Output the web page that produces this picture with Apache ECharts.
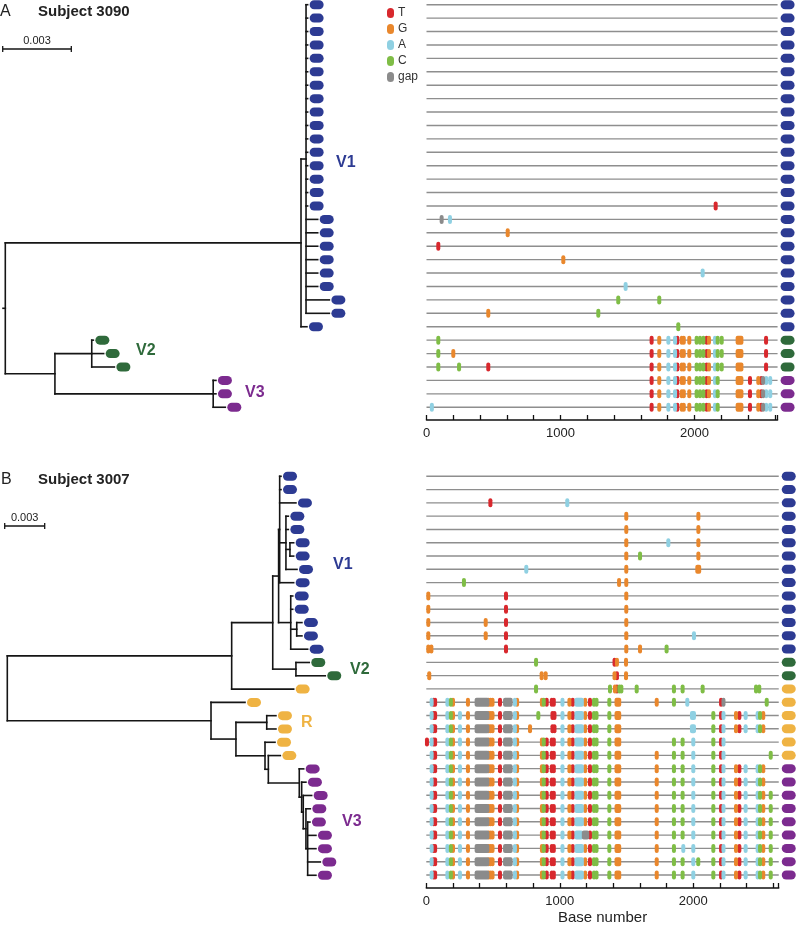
<!DOCTYPE html>
<html><head><meta charset="utf-8">
<script src="https://cdn.jsdelivr.net/npm/echarts@6/dist/echarts.min.js"></script>
<style>html,body{margin:0;padding:0;background:#fff}#main{width:798px;height:926px}</style>
</head><body><div id="main"></div>
<script>
// ---------------- DATA ----------------
const bases = ['T', 'G', 'A', 'C', 'gap'];
const seqLenA = 2620;
const seqLenB = 2640;
const axisTickInterval = 200;

// group of each sequence (row order top -> bottom)
const groupsA = ['V1','V1','V1','V1','V1','V1','V1','V1','V1','V1','V1','V1','V1','V1','V1','V1','V1','V1','V1','V1','V1','V1','V1','V1','V1',
                 'V2','V2','V2','V3','V3','V3'];
const groupsB = ['V1','V1','V1','V1','V1','V1','V1','V1','V1','V1','V1','V1','V1','V1',
                 'V2','V2','R','R','R','R','R','R','V3','V3','V3','V3','V3','V3','V3','V3','V3'];

// phylogeny, panel A: internal nodes [id, parent, distance from root]
const treeA_internal = [
  ['root', null, 0], ['n1', 'root', 0.01293], ['n2', 'n1', 0.01315],
  ['n3', 'root', 0.00217], ['n4', 'n3', 0.00378], ['n5', 'n3', 0.00909]
];
const treeA_leafParent = ['n2','n2','n2','n2','n2','n2','n2','n2','n2','n2','n2','n2','n2','n2','n2','n2',
                          'n2','n2','n2','n2','n2','n2','n2','n2','n1','n4','n4','n4','n5','n5','n5'];
const treeA_leafDist = [0.01322,0.01322,0.01322,0.01322,0.01322,0.01322,0.01322,0.01322,0.01322,0.01322,0.01322,0.01322,0.01322,0.01322,0.01322,0.01322,
                        0.01366,0.01366,0.01366,0.01366,0.01366,0.01366,0.01417,0.01417,0.01319,
                        0.00385,0.00430,0.00477,0.00921,0.00921,0.00962];

// phylogeny, panel B
const treeB_internal = [
  ['root', null, 0], ['A1', 'root', 0.01683], ['A2', 'A1', 0.01991], ['V1', 'A2', 0.02035],
  ['Ua', 'V1', 0.02043], ['Vb', 'Ua', 0.02090], ['Vd', 'Vb', 0.02120], ['Vc', 'V1', 0.02126],
  ['Vf', 'Vc', 0.02171], ['V2', 'A2', 0.02165], ['B1', 'root', 0.01528], ['B2', 'B1', 0.01715],
  ['R', 'B2', 0.01946], ['B3', 'B2', 0.01933], ['B4', 'B3', 0.01958], ['P1', 'B4', 0.02190],
  ['P2', 'P1', 0.02208], ['P3', 'P2', 0.02220], ['P4', 'P3', 0.02240], ['P5', 'P4', 0.02253]
];
const treeB_leafParent = ['Ua','Ua','Ua','Vb','Vb','Vd','Vd','Vb','Ua','Vc','Vc','Vf','Vf','Vc',
                          'V2','V2','A1','B1','R','R','B3','B4','P1','P2','P3','P4','P5','P5','P5','P5','P5'];
const treeB_leafDist = [0.02053,0.02053,0.02165,0.02108,0.02108,0.02148,0.02148,0.02173,0.02148,0.02141,0.02141,0.02210,0.02210,0.02253,
                        0.02265,0.02385,0.02148,0.01783,0.02015,0.02015,0.02008,0.02048,
                        0.02223,0.02240,0.02283,0.02273,0.02270,0.02315,0.02315,0.02348,0.02315];
const scaleBarLength = 0.003;

// mutations (position, base[, end position]) relative to the reference sequence
const v2ClusterA = [[1680,'T'],[1737,'G'],[1805,'A'],[1855,'A'],[1872,'T'],[1905,'G'],[1920,'G'],[1961,'G'],[2016,'C'],[2041,'C'],
                    [2066,'C'],[2091,'T'],[2108,'G'],[2153,'A'],[2173,'C'],[2203,'C'],[2322,'G',2350],[2534,'T']];
const v3ClusterA = [[1680,'T'],[1737,'G'],[1805,'A'],[1855,'A'],[1872,'T'],[1905,'G'],[1920,'G'],[1961,'G'],[2016,'C'],[2041,'C'],
                    [2066,'C'],[2091,'T'],[2108,'G'],[2153,'A'],[2173,'C'],[2322,'G',2350],[2414,'T'],[2476,'G'],[2498,'T'],
                    [2512,'gap'],[2535,'A'],[2565,'A']];
const sitesA = [
  [],[],[],[],[],[],[],[],[],[],[],[],[],[],[],
  [[2158,'T']],
  [[113,'gap'],[175,'A']],
  [[606,'G']],
  [[88,'T']],
  [[1021,'G']],
  [[2061,'A']],
  [[1486,'A']],
  [[1431,'C'],[1737,'C']],
  [[461,'G'],[1282,'C']],
  [[1879,'C']],
  [[88,'C'], ...v2ClusterA],
  [[88,'C'],[200,'G'], ...v2ClusterA],
  [[88,'C'],[243,'C'],[461,'T'], ...v2ClusterA],
  [...v3ClusterA],
  [...v3ClusterA],
  [[40,'A'], ...v3ClusterA]
];

const bLeft = [[40,'A'],[55,'T'],[66,'T'],[158,'A'],[184,'C'],[200,'G'],[312,'G'],[377,'gap',457],[467,'G'],[482,'G'],[496,'G'],
               [552,'T'],[590,'gap',632],[664,'A'],[680,'G']];
const bMidFull = [[866,'G'],[880,'C'],[902,'T'],[940,'T'],[955,'T'],[1020,'A'],[1072,'G'],[1097,'T'],[1125,'A',1165],[1190,'G'],
                  [1226,'T'],[1256,'C'],[1275,'C']];
const bMidShort = [[945,'T'],[960,'T'],[1020,'A'],[1072,'G'],[1097,'T'],[1125,'A',1165],[1190,'G'],[1226,'T'],[1256,'C'],[1275,'C']];
const bMid27 = [[866,'G'],[880,'C'],[902,'T'],[940,'T'],[955,'T'],[1020,'A'],[1072,'G'],[1097,'T'],[1125,'A',1160],[1180,'gap',1205],
                [1226,'T'],[1256,'C'],[1275,'C']];
const bR = [[1371,'C'],[1425,'G',1445]];
const bTailR = [[1990,'A',2005],[2150,'C'],[2208,'T'],[2226,'A'],[2320,'G'],[2345,'T'],[2392,'A'],[2482,'A'],[2500,'C'],[2524,'G']];
const bTailV3 = [[1726,'G'],[1855,'C'],[1920,'C'],[2000,'A'],[2150,'C'],[2208,'T'],[2226,'A'],[2320,'G'],[2345,'T'],[2392,'A'],
                 [2482,'A'],[2500,'C'],[2524,'G']];
const bTailV3b = [[1726,'G'],[1855,'C'],[1925,'A'],[2000,'A'],[2150,'C'],[2208,'T'],[2226,'A'],[2320,'G'],[2345,'T'],[2392,'A'],
                  [2482,'A'],[2500,'C'],[2524,'G']];
const sitesB = [
  [],
  [],
  [[480,'T'],[1056,'A']],
  [[1498,'G'],[2038,'G']],
  [[1498,'G'],[2038,'G']],
  [[1498,'G'],[1813,'A'],[2038,'G']],
  [[1498,'G'],[1601,'C'],[2038,'G']],
  [[749,'A'],[1498,'G'],[2030,'G',2044]],
  [[282,'C'],[1444,'G'],[1498,'G']],
  [[15,'G'],[597,'T'],[1498,'G']],
  [[15,'G'],[597,'T'],[1498,'G']],
  [[15,'G'],[445,'G'],[597,'T'],[1498,'G']],
  [[15,'G'],[445,'G'],[597,'T'],[1498,'G'],[2005,'A']],
  [[15,'G'],[38,'G'],[597,'T'],[1498,'G'],[1601,'G'],[1800,'C']],
  [[822,'C'],[1410,'T'],[1428,'G'],[1496,'G']],
  [[22,'G'],[864,'G'],[894,'G'],[1410,'G'],[1428,'T'],[1496,'G']],
  [[822,'C'],[1376,'C'],[1413,'G'],[1428,'T'],[1446,'C'],[1461,'C'],[1576,'C'],[1855,'C'],[1920,'C'],[2070,'C'],[2470,'C'],[2494,'C']],
  [...bLeft, ...bMidFull, ...bR, [1726,'G'],[1855,'C'],[1955,'A'],[2208,'T'],[2226,'gap'],[2550,'C']],
  [...bLeft, [252,'A'], [839,'C'], ...bMidShort, ...bR, ...bTailR],
  [...bLeft, [252,'A'], [777,'G'], ...bMidShort, ...bR, ...bTailR],
  [[5,'T'], ...bLeft, [252,'A'], ...bMidFull, ...bR, [1855,'C'],[1920,'C'],[2000,'A'],[2150,'C'],[2208,'T'],[2226,'A']],
  [...bLeft, [252,'A'], ...bMidFull, ...bR, [1726,'G'],[1855,'C'],[1920,'C'],[2000,'A'],[2150,'C'],[2208,'T'],[2226,'A'],[2580,'C']],
  [...bLeft, [252,'A'], ...bMidFull, ...bR, ...bTailV3],
  [...bLeft, [252,'A'], ...bMidFull, ...bR, ...bTailV3],
  [...bLeft, [252,'A'], ...bMidFull, ...bR, ...bTailV3, [2580,'C']],
  [...bLeft, [252,'A'], ...bMidFull, ...bR, ...bTailV3, [2580,'C']],
  [...bLeft, [252,'A'], ...bMidFull, ...bR, ...bTailV3, [2580,'C']],
  [...bLeft, [252,'A'], ...bMid27, ...bR, ...bTailV3, [2580,'C']],
  [...bLeft, [252,'A'], ...bMidFull, ...bR, ...bTailV3b, [2580,'C']],
  [...bLeft, [252,'A'], ...bMidFull, ...bR, ...bTailV3, [2037,'C'], [2580,'C']],
  [...bLeft, [252,'A'], ...bMidFull, ...bR, ...bTailV3, [2580,'C']]
];

// ---------------- STYLE ----------------
const FONT = '"Liberation Sans", Arial, Helvetica, sans-serif';
const baseColors = {T: '#d8282d', G: '#e9872c', A: '#8fd0e2', C: '#7fbd46', gap: '#8b8b8b'};
const groupColors = {V1: '#2d3b93', V2: '#2f6a3b', V3: '#7c2b8f', R: '#efb343'};

// ---------------- BUILD ----------------
function layoutTree(internal, leafParent, leafDist) {
  const nodes = {};
  internal.forEach(([id, parent, d]) => { nodes[id] = {id, parent, d, children: []}; });
  leafParent.forEach((p, i) => { nodes['L' + i] = {id: 'L' + i, parent: p, d: leafDist[i], children: [], y: i, leaf: true}; });
  Object.values(nodes).forEach(n => { if (n.parent) nodes[n.parent].children.push(n); });
  function yOf(n) {
    if (n.leaf) return n.y;
    const ys = n.children.map(yOf);
    n.y = (Math.min(...ys) + Math.max(...ys)) / 2;
    return n.y;
  }
  const root = Object.values(nodes).find(n => !n.parent);
  yOf(root);
  const segs = [];
  Object.values(nodes).forEach(n => {
    if (!n.leaf && n.children.length) {
      const ys = n.children.map(c => c.y);
      segs.push([n.d, Math.min(...ys), n.d, Math.max(...ys)]);
      n.children.forEach(c => segs.push([n.d, c.y, c.d, c.y]));
    }
  });
  return {segs, root};
}

function treeSeries(tree, idx, stub) {
  const segs = tree.segs.slice();
  if (stub) segs.push([tree.root.d - stub, tree.root.y, tree.root.d, tree.root.y]);
  return {
    type: 'custom', xAxisIndex: idx, yAxisIndex: idx, clip: false, silent: true, z: 3,
    data: segs, encode: {x: [0, 2], y: [1, 3]},
    renderItem: (params, api) => {
      const p1 = api.coord([api.value(0), api.value(1)]);
      const p2 = api.coord([api.value(2), api.value(3)]);
      return {type: 'line', shape: {x1: p1[0], y1: p1[1], x2: p2[0], y2: p2[1]},
              style: {stroke: '#151515', lineWidth: 1.6, lineCap: 'square'}};
    }
  };
}

function leafSeries(leafDist, groups, idx) {
  return {
    type: 'custom', xAxisIndex: idx, yAxisIndex: idx, clip: false, silent: true, z: 4,
    data: leafDist.map((d, i) => [d, i]), encode: {x: 0, y: 1},
    renderItem: (params, api) => {
      const p = api.coord([api.value(0), api.value(1)]);
      return {type: 'rect', shape: {x: p[0] + 2, y: p[1] - 4.5, width: 14, height: 9, r: 4.5},
              style: {fill: groupColors[groups[params.dataIndex]]}};
    }
  };
}

function scaleBarSeries(idx, yPix) {
  return {
    type: 'custom', xAxisIndex: idx, yAxisIndex: idx, clip: false, silent: true, z: 4,
    data: [[0, 0, scaleBarLength]],
    renderItem: (params, api) => {
      const a = api.coord([0, 0]);
      const b = api.coord([api.value(2), 0]);
      const x0 = a[0] - 2.6, x1 = x0 + (b[0] - a[0]);
      return {type: 'group', children: [
        {type: 'line', shape: {x1: x0, y1: yPix, x2: x1, y2: yPix}, style: {stroke: '#151515', lineWidth: 1.5}},
        {type: 'line', shape: {x1: x0, y1: yPix - 3, x2: x0, y2: yPix + 3}, style: {stroke: '#151515', lineWidth: 1.3}},
        {type: 'line', shape: {x1: x1, y1: yPix - 3, x2: x1, y2: yPix + 3}, style: {stroke: '#151515', lineWidth: 1.3}},
        {type: 'text', x: (x0 + x1) / 2, y: yPix - 8,
         style: {text: String(api.value(2)), font: '11px ' + FONT, fill: '#222', align: 'center', verticalAlign: 'middle'}}
      ]};
    }
  };
}

function rowSeries(groups, seqLen, idx) {
  return {
    type: 'custom', xAxisIndex: idx, yAxisIndex: idx, clip: false, silent: true, z: 2,
    data: groups.map((g, i) => [0, i, seqLen]), encode: {x: [0, 2], y: 1},
    renderItem: (params, api) => {
      const p0 = api.coord([api.value(0), api.value(1)]);
      const p1 = api.coord([api.value(2), api.value(1)]);
      return {type: 'group', children: [
        {type: 'line', shape: {x1: p0[0], y1: p0[1], x2: p1[0], y2: p1[1]}, style: {stroke: '#8e8e8e', lineWidth: 1.4}},
        {type: 'rect', shape: {x: p1[0] + 3, y: p1[1] - 4.5, width: 14, height: 9, r: 4.5},
         style: {fill: groupColors[groups[params.dataIndex]]}}
      ]};
    }
  };
}

function markSeries(sites, idx, base) {
  const data = [];
  sites.forEach((list, row) => list.forEach(s => {
    if (s[1] === base) data.push([row, s[0], s[2] !== undefined ? s[2] : s[0]]);
  }));
  return {
    type: 'custom', name: base, xAxisIndex: idx, yAxisIndex: idx, clip: false, silent: true, z: 5,
    itemStyle: {color: baseColors[base]},
    data, encode: {x: [1, 2], y: 0},
    renderItem: (params, api) => {
      const p0 = api.coord([api.value(1), api.value(0)]);
      const p1 = api.coord([api.value(2), api.value(0)]);
      return {type: 'rect', shape: {x: p0[0] - 2, y: p0[1] - 4.5, width: p1[0] - p0[0] + 4, height: 9, r: 2},
              style: {fill: baseColors[base]}};
    }
  };
}

const treeA = layoutTree(treeA_internal, treeA_leafParent, treeA_leafDist);
const treeB = layoutTree(treeB_internal, treeB_leafParent, treeB_leafDist);

const grids = [
  {left: 5.3, top: 0, width: 343.05, height: 420},
  {left: 426.5, top: 0, width: seqLenA * 0.134, height: 420},
  {left: 7.3, top: 469.65, width: 333.3, height: 418.65},
  {left: 426.3, top: 469.65, width: seqLenB * 0.1335, height: 418.65}
];

function seqAxis(gi, max, withName) {
  const ax = {
    type: 'value', gridIndex: gi, min: 0, max: max, interval: axisTickInterval, position: 'bottom',
    axisLine: {show: true, onZero: false, lineStyle: {color: '#111', width: 1.5}},
    axisTick: {show: true, inside: true, length: 5, lineStyle: {color: '#111', width: 1.3}},
    axisLabel: {formatter: v => (v % 1000 === 0 ? String(v) : ''), fontSize: 13, color: '#222', fontFamily: FONT, margin: 7},
    splitLine: {show: false}
  };
  if (withName) {
    ax.name = 'Base number'; ax.nameLocation = 'middle'; ax.nameGap = 22;
    ax.nameTextStyle = {fontSize: 15, color: '#222', fontFamily: FONT};
  }
  return ax;
}

const xAxes = [
  {type: 'value', gridIndex: 0, min: 0, max: 0.015, show: false},
  seqAxis(1, seqLenA, false),
  {type: 'value', gridIndex: 2, min: 0, max: 0.025, show: false},
  seqAxis(3, seqLenB, true)
];
const yA = {type: 'value', min: -0.35, max: 30.95, inverse: true, show: false};
const yB = {type: 'value', min: -0.5, max: 30.98, inverse: true, show: false};
const yAxes = [
  Object.assign({gridIndex: 0}, yA), Object.assign({gridIndex: 1}, yA),
  Object.assign({gridIndex: 2}, yB), Object.assign({gridIndex: 3}, yB)
];

const series = [
  treeSeries(treeA, 0, 0.0001), leafSeries(treeA_leafDist, groupsA, 0), scaleBarSeries(0, 49),
  rowSeries(groupsA, seqLenA, 1),
  treeSeries(treeB, 2, 0), leafSeries(treeB_leafDist, groupsB, 2), scaleBarSeries(2, 526),
  rowSeries(groupsB, seqLenB, 3)
];
bases.forEach(b => series.push(markSeries(sitesA, 1, b)));
bases.forEach(b => series.push(markSeries(sitesB, 3, b)));

function txt(x, y, text, font, color, align) {
  return {type: 'text', x: x, y: y, silent: true,
          style: {text: text, font: font, fill: color, align: align || 'left', verticalAlign: 'middle'}};
}
const bold16 = 'bold 16px ' + FONT;
const graphics = [
  txt(0, 12, 'A', '16px ' + FONT, '#222'),
  txt(38, 12, 'Subject 3090', 'bold 15px ' + FONT, '#222'),
  txt(1, 480, 'B', '16px ' + FONT, '#222'),
  txt(38, 480, 'Subject 3007', 'bold 15px ' + FONT, '#222'),
  txt(336, 163, 'V1', bold16, groupColors.V1),
  txt(136, 351, 'V2', bold16, groupColors.V2),
  txt(245, 393, 'V3', bold16, groupColors.V3),
  txt(333, 565, 'V1', bold16, groupColors.V1),
  txt(350, 670, 'V2', bold16, groupColors.V2),
  txt(301, 723, 'R', bold16, groupColors.R),
  txt(342, 822, 'V3', bold16, groupColors.V3)
];

const chart = echarts.init(document.getElementById('main'), null, {renderer: 'canvas'});
chart.setOption({
  animation: false,
  backgroundColor: '#fff',
  textStyle: {fontFamily: FONT},
  legend: {
    data: bases, orient: 'vertical', left: 382, top: 2,
    itemWidth: 7, itemHeight: 10, itemGap: 4, selectedMode: false,
    icon: 'path://M3.5,0 A3.5,3.5 0 0 1 7,3.5 L7,6.5 A3.5,3.5 0 0 1 0,6.5 L0,3.5 A3.5,3.5 0 0 1 3.5,0 Z',
    textStyle: {fontSize: 12, color: '#333', fontFamily: FONT, lineHeight: 10, padding: [0, 0, 0, -1]}
  },
  grid: grids,
  xAxis: xAxes,
  yAxis: yAxes,
  series: series,
  graphic: graphics
});
</script></body></html>
